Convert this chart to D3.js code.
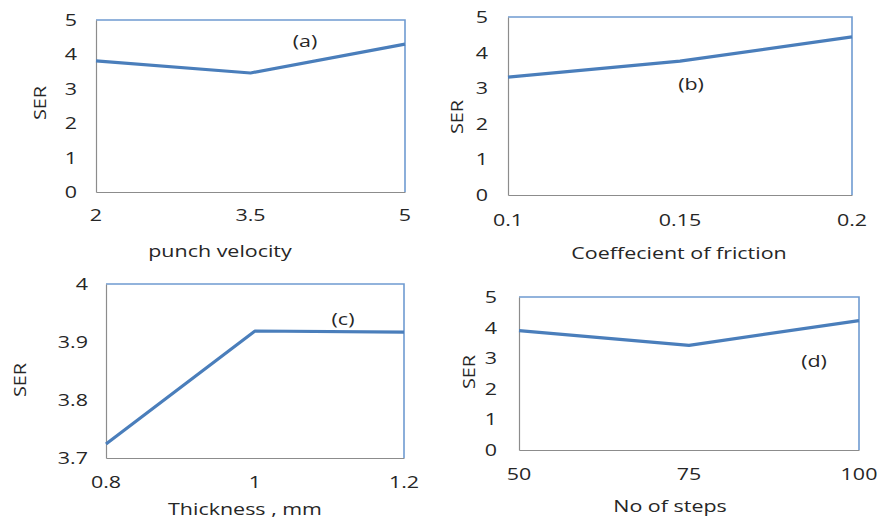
<!DOCTYPE html>
<html>
<head>
<meta charset="utf-8">
<script src="https://cdn.jsdelivr.net/npm/d3@7"></script>
<style>
  html, body { margin: 0; padding: 0; background: #fff; }
  svg text { font-family: "Open Sans", "DejaVu Sans", sans-serif; fill: #262626; }
</style>
</head>
<body>
<svg id="chart" width="877" height="521"></svg>
<script>
// SER response for each process parameter
const velocityLevels = [2, 3.5, 5];
const velocitySER = [3.81, 3.46, 4.30];

const frictionLevels = [0.1, 0.15, 0.2];
const frictionSER = [3.31, 3.76, 4.44];

const thicknessLevels = [0.8, 1, 1.2];
const thicknessSER = [3.724, 3.919, 3.917];

const stepLevels = [50, 75, 100];
const stepSER = [3.90, 3.42, 4.23];

const serTicksFull = [0, 1, 2, 3, 4, 5];
const serTicksThickness = [3.7, 3.8, 3.9, 4];

const panelTags = ["(a)", "(b)", "(c)", "(d)"];
const xTitles = ["punch velocity", "Coeffecient of friction", "Thickness , mm", "No of steps"];

const LINE = "#4a7ebb";
const FRAME = "#6f9bd1";
const AXIS = "#8c8c8c";
const SX = 1.3;      // horizontal stretch of the lettering
const FS = 16.5;     // font size

const panels = [
  { x: velocityLevels, y: velocitySER, yDom: [0, 5], yTicks: serTicksFull, yFmt: d3.format("d"),
    box: [96, 20, 405, 192], tag: panelTags[0], tagPos: [305, 41], title: xTitles[0], titlePos: [220, 251],
    serPos: [40, 103], xLabY: 215, yLabR: 77 },
  { x: frictionLevels, y: frictionSER, yDom: [0, 5], yTicks: serTicksFull, yFmt: d3.format("d"),
    box: [508, 17, 852, 195], tag: panelTags[1], tagPos: [691, 84], title: xTitles[1], titlePos: [679, 253],
    serPos: [457, 117], xLabY: 220, yLabR: 488 },
  { x: thicknessLevels, y: thicknessSER, yDom: [3.7, 4], yTicks: serTicksThickness, yFmt: d => d === 4 ? "4" : d3.format(".1f")(d),
    box: [106, 284, 404, 458], tag: panelTags[2], tagPos: [343, 319], title: xTitles[2], titlePos: [245, 509],
    serPos: [20, 380], xLabY: 482, yLabR: 88 },
  { x: stepLevels, y: stepSER, yDom: [0, 5], yTicks: serTicksFull, yFmt: d3.format("d"),
    box: [519, 297, 859, 450], tag: panelTags[3], tagPos: [814, 361], title: xTitles[3], titlePos: [670, 506],
    serPos: [469, 372], xLabY: 474, yLabR: 497 }
];

const svg = d3.select("#chart");

function stretchedText(g, x, y, str, anchor, rotate) {
  return g.append("text")
    .attr("transform", `translate(${x},${y})` + (rotate ? " rotate(-90) scale(1.2,1)" : ` scale(${SX},1)`))
    .attr("text-anchor", anchor)
    .attr("dominant-baseline", "central")
    .style("font-size", FS + "px")
    .text(str);
}

panels.forEach(p => {
  const [x0, y0, x1, y1] = p.box;
  const xScale = d3.scalePoint().domain(p.x).range([x0, x1]);
  const yScale = d3.scaleLinear().domain(p.yDom).range([y1, y0]);
  const g = svg.append("g");

  // plot-area frame: blue top and right edges
  g.append("path")
    .attr("d", `M${x0},${y0}H${x1}V${y1}`)
    .attr("fill", "none").attr("stroke", FRAME).attr("stroke-width", 1.6);

  // left and bottom axis lines
  const yAxis = d3.axisLeft(yScale).tickValues(p.yTicks).tickSize(0).tickFormat(p.yFmt);
  const ya = g.append("g").attr("transform", `translate(${x0},0)`).call(yAxis);
  ya.select(".domain").attr("stroke", AXIS).attr("stroke-width", 1.2);
  ya.selectAll("text").remove();

  const xAxis = d3.axisBottom(xScale).tickSize(0);
  const xa = g.append("g").attr("transform", `translate(0,${y1})`).call(xAxis);
  xa.select(".domain").attr("stroke", AXIS).attr("stroke-width", 1.2);
  xa.selectAll("text").remove();

  // tick labels
  p.yTicks.forEach(v => stretchedText(g, p.yLabR, yScale(v), p.yFmt(v), "end"));
  p.x.forEach(v => stretchedText(g, xScale(v), p.xLabY, String(v), "middle"));

  // series line
  const line = d3.line().x((d, i) => xScale(p.x[i])).y(d => yScale(d));
  g.append("path")
    .datum(p.y)
    .attr("d", line)
    .attr("fill", "none")
    .attr("stroke", LINE)
    .attr("stroke-width", 3.2)
    .attr("stroke-linejoin", "round");

  // panel tag and axis titles
  stretchedText(g, p.tagPos[0], p.tagPos[1], p.tag, "middle");
  stretchedText(g, p.titlePos[0], p.titlePos[1], p.title, "middle");
  stretchedText(g, p.serPos[0], p.serPos[1], "SER", "middle", true);
});
</script>
</body>
</html>
